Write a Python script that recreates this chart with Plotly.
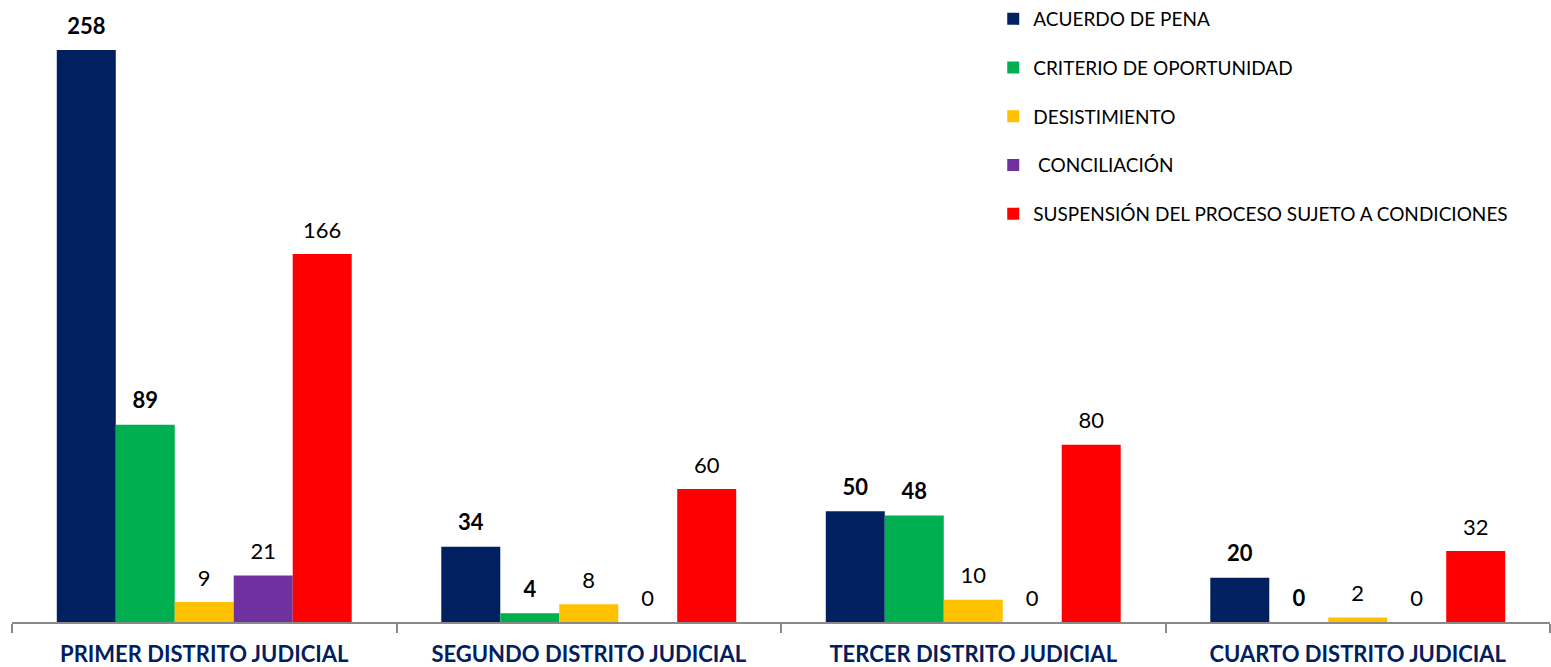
import plotly.graph_objects as go

categories = ["PRIMER DISTRITO JUDICIAL", "SEGUNDO DISTRITO JUDICIAL",
              "TERCER DISTRITO JUDICIAL", "CUARTO DISTRITO JUDICIAL"]
series_names = ["ACUERDO DE PENA", "CRITERIO DE OPORTUNIDAD", "DESISTIMIENTO",
                " CONCILIACIÓN", "SUSPENSIÓN DEL PROCESO SUJETO A CONDICIONES"]
acuerdo = [258, 34, 50, 20]
criterio = [89, 4, 48, 0]
desistimiento = [9, 8, 10, 2]
conciliacion = [21, 0, 0, 0]
suspension = [166, 60, 80, 32]

values = [acuerdo, criterio, desistimiento, conciliacion, suspension]
colors = ["#002060", "#00B050", "#FFC000", "#7030A0", "#FF0000"]
bold = [True, True, False, False, False]

FONT = "Lato"
fig = go.Figure()
for i, (name, vals, col) in enumerate(zip(series_names, values, colors)):
    fig.add_trace(go.Bar(
        x=categories, y=vals, name=name, marker=dict(color=col, line=dict(width=0)),
        offsetgroup=str(i), legendgroup=str(i), hoverinfo="skip",
    ))
for i, vals in enumerate(values):
    txt = [f"<b>{v}</b>" if bold[i] else str(v) for v in vals]
    fig.add_trace(go.Scatter(
        x=categories, y=vals, mode="markers+text", text=txt,
        textposition="top center", offsetgroup=str(i),
        marker=dict(size=16, opacity=0), showlegend=False, hoverinfo="skip",
        textfont=dict(family=FONT, size=22, color="#000000"), cliponaxis=False,
    ))

fig.update_layout(
    width=1551, height=667,
    margin=dict(l=12, r=1, t=0, b=45),
    barmode="group", bargap=0.233, bargroupgap=0,
    scattermode="group", scattergap=0.233,
    plot_bgcolor="white", paper_bgcolor="white",
    font=dict(family=FONT, color="#000000"),
    legend=dict(x=0.638, y=1.0, xanchor="left", yanchor="top",
                traceorder="grouped", tracegroupgap=21,
                font=dict(family=FONT, size=19, color="#000000"),
                itemwidth=30, bgcolor="rgba(0,0,0,0)"),
)
fig.update_xaxes(
    type="category", showline=True, linecolor="#898989", linewidth=2,
    ticks="outside", tickson="boundaries", ticklen=9, tickcolor="#898989", tickwidth=2,
    tickfont=dict(family=FONT, size=22, color="#002060", weight="bold"),
    ticklabelstandoff=12,
    showgrid=False, automargin=False,
)
fig.update_yaxes(range=[0, 280.6], visible=False, showgrid=False, automargin=False)

fig.write_html("out.html", config={"displayModeBar": False},
               post_script="document.body.style.margin='0';document.body.style.overflow='hidden';")
